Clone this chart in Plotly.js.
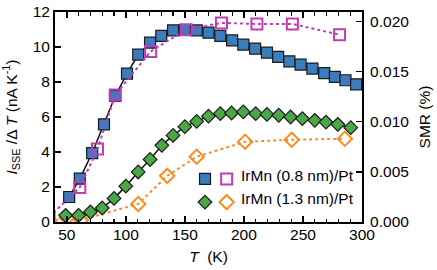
<!DOCTYPE html>
<html>
<head>
<meta charset="utf-8">
<script src="https://cdn.plot.ly/plotly-3.0.1.min.js"></script>
<style>
html,body{margin:0;padding:0;background:#fff;}
#chart{width:437px;height:270px;}
</style>
</head>
<body>
<div id="chart"></div>
<script>
// IrMn (0.8 nm)/Pt : I_SSE / ΔT (nA/K)
var tempA = [52, 61, 71.5, 81.5, 91, 101, 110.5, 120.5, 130, 140, 150, 160, 170, 180, 190, 199.5, 209.5, 219.5, 229, 238.5, 248, 258, 268, 277, 286, 295];
var isseA = [1.43, 2.48, 3.94, 5.58, 7.2, 8.48, 9.57, 10.25, 10.63, 10.95, 10.97, 10.95, 10.82, 10.63, 10.38, 10.14, 9.91, 9.68, 9.43, 9.18, 8.99, 8.77, 8.51, 8.29, 8.10, 7.87];
// IrMn (0.8 nm)/Pt : SMR (%)
var tempSmrA = [35, 61, 76, 91, 121, 151, 181, 211, 241, 281];
var smrA = [0.0005, 0.00344, 0.00727, 0.01267, 0.0170, 0.01917, 0.01984, 0.01974, 0.01974, 0.01867];
// IrMn (1.3 nm)/Pt : I_SSE / ΔT (nA/K)
var tempB = [49, 60, 70, 80, 90, 100, 110.5, 120.5, 130.5, 140, 150, 160, 170, 180, 189.5, 199.5, 210, 219.5, 229.5, 239.5, 249.5, 260, 269.5, 279.5, 290.5];
var isseB = [0.38, 0.38, 0.57, 0.8, 1.35, 2.05, 2.86, 3.57, 4.38, 4.95, 5.45, 5.75, 6.05, 6.19, 6.23, 6.29, 6.19, 6.15, 6.10, 6.0, 5.91, 5.81, 5.71, 5.58, 5.39];
// IrMn (1.3 nm)/Pt : SMR (%)
var tempSmrB = [35, 50, 62, 110.5, 135, 160, 201, 240.5, 285.5];
var smrB = [0.0001, 0.0004, 0.0002, 0.0018, 0.0046, 0.0065, 0.0080, 0.0082, 0.0083];

var legendTexts = ['IrMn (0.8 nm)/Pt', 'IrMn (1.3 nm)/Pt'];

var FONT = 'Liberation Sans, Arial, Helvetica, sans-serif';
var blue = '#3a7dbf', magenta = '#c03cb4', green = '#4aa845', orange = '#ff8a1e';

function lineTrace(x, y, ax, line) {
  return {x: x, y: y, xaxis: 'x', yaxis: ax, mode: 'lines', line: line, showlegend: false};
}
function markTrace(x, y, ax, marker, legend) {
  return {x: x, y: y, xaxis: 'x', yaxis: ax, mode: 'markers', marker: marker, name: ' ', legend: legend, showlegend: true};
}

var traces = [
  lineTrace(tempA, isseA, 'y', {color: '#111', width: 1.5}),
  markTrace(tempA, isseA, 'y', {symbol: 'square', size: 11, color: blue, line: {color: '#1a1a1a', width: 1.2}}, 'legend'),
  lineTrace(tempSmrA, smrA, 'y2', {color: magenta, width: 2, dash: 'dot'}),
  markTrace(tempSmrA, smrA, 'y2', {symbol: 'square-open', size: 11, color: magenta, line: {color: magenta, width: 2}}, 'legend2'),
  lineTrace(tempSmrB, smrB, 'y3', {color: orange, width: 2, dash: 'dot'}),
  markTrace(tempSmrB, smrB, 'y3', {symbol: 'diamond-open', size: 11, color: orange, line: {color: orange, width: 2}}, 'legend2'),
  lineTrace(tempB, isseB, 'y4', {color: '#111', width: 1.5}),
  markTrace(tempB, isseB, 'y4', {symbol: 'diamond', size: 10.5, color: green, line: {color: '#1a1a1a', width: 1.2}}, 'legend')
];

var tickFont = {family: FONT, size: 15.5, color: '#000'};
var layout = {
  width: 437, height: 270,
  margin: {l: 55, r: 75, t: 12, b: 48, pad: 0},
  paper_bgcolor: '#fff', plot_bgcolor: '#fff',
  font: {family: FONT, size: 15.5, color: '#000'},
  xaxis: {
    range: [40, 300], tick0: 50, dtick: 50, ticks: 'inside', ticklen: 6, tickwidth: 1.5,
    tickcolor: '#000', showline: true, linewidth: 2, linecolor: '#000', mirror: 'ticks',
    showgrid: false, zeroline: false, tickfont: tickFont, ticklabelstandoff: -3,
    minor: {dtick: 10, tick0: 0, ticks: 'inside', ticklen: 3.5, tickwidth: 1.2, tickcolor: '#000', showgrid: false},
    title: {text: '<i>T</i>  (K)', font: {family: FONT, size: 15.5}, standoff: 10}
  },
  yaxis: {
    range: [0, 12], dtick: 2, ticks: 'inside', ticklen: 6, tickwidth: 1.5, tickcolor: '#000',
    showline: true, linewidth: 2, linecolor: '#000', mirror: false,
    showgrid: false, zeroline: false, tickfont: tickFont,
    title: {text: '<i>I</i><sub>SSE</sub> /Δ <i>T</i> (nA K<sup>-1</sup>)', font: {family: FONT, size: 15.5}, standoff: 14}
  },
  yaxis2: {
    overlaying: 'y', side: 'right', range: [0, 0.02093], dtick: 0.005, tickformat: '.3f',
    ticks: 'inside', ticklen: 6, tickwidth: 1.5, tickcolor: '#000', ticklabelstandoff: 3,
    showline: true, linewidth: 2, linecolor: '#000', showgrid: false, zeroline: false, tickfont: tickFont,
    title: {text: 'SMR (%)', font: {family: FONT, size: 15.5}, standoff: 11}
  },
  yaxis3: {overlaying: 'y', range: [0, 0.02093], visible: false},
  yaxis4: {overlaying: 'y', range: [0, 12], visible: false},
  showlegend: true,
  legend: {x: 0.4235, y: 0.284, xanchor: 'left', yanchor: 'top', bgcolor: 'rgba(0,0,0,0)',
           font: {family: FONT, size: 15.5}, traceorder: 'normal', tracegroupgap: 0, borderwidth: 0},
  legend2: {x: 0.494, y: 0.284, xanchor: 'left', yanchor: 'top', bgcolor: 'rgba(0,0,0,0)',
           font: {family: FONT, size: 15.5}, traceorder: 'normal', tracegroupgap: 0, borderwidth: 0},
  annotations: [
    {xref: 'paper', yref: 'paper', x: 0.600, y: 0.2235, xanchor: 'left', yanchor: 'middle',
     text: legendTexts[0], showarrow: false, font: {family: FONT, size: 15.5, color: '#000'}},
    {xref: 'paper', yref: 'paper', x: 0.600, y: 0.114, xanchor: 'left', yanchor: 'middle',
     text: legendTexts[1], showarrow: false, font: {family: FONT, size: 15.5, color: '#000'}}
  ]
};

Plotly.newPlot('chart', traces, layout, {staticPlot: true, displayModeBar: false});
</script>
</body>
</html>
